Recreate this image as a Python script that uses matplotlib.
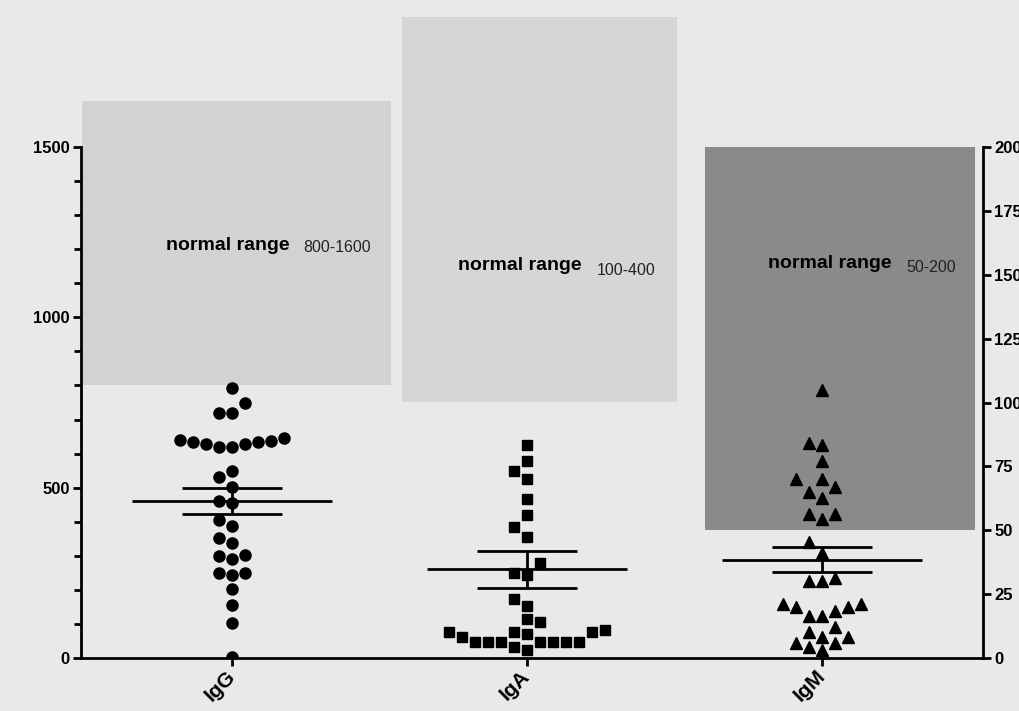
import numpy as np
import matplotlib.pyplot as plt
from matplotlib.patches import Rectangle

plt.rcParams['font.family'] = ['Liberation Sans', 'DejaVu Sans']

# data
groups = ['IgG', 'IgA', 'IgM']
igg = [794, 748, 718, 718, 647, 640, 637, 635, 635, 627, 627, 620, 620,
       549, 530, 501, 461, 454, 405, 387, 351, 337, 301, 299, 290,
       251, 251, 245, 202, 157, 102, 2]
iga = [625, 579, 550, 527, 467, 420, 384, 356, 280, 249, 244, 173, 153,
       114, 107, 82, 77, 75, 75, 70, 63, 48, 48, 48, 48, 48, 48, 48, 33, 25]
igm = [105, 84, 83.4, 77, 70, 70, 67, 65, 62.5, 56.4, 56.4, 54.3, 45.3, 41,
       31.2, 30.3, 30.3, 21, 21, 20, 20, 18.5, 16.4, 16.4, 12.3, 10.3,
       8.3, 8.3, 6, 6, 4.4, 3.1]
means = [461, 260, 38.4]
sems = [37.5, 54, 4.9]
ranges = ['800-1600', '100-400', '50-200']

BG = '#e9e9e9'
LW = 2.0


def swarm(ax, vals, x0, step_px=13, gap_px=13):
    # simple greedy beeswarm in pixel space, lowest values first
    vals = np.asarray(vals, dtype=float)
    ys = ax.transData.transform(np.column_stack([np.full(len(vals), x0), vals]))[:, 1]
    px_per_x = ax.transData.transform((1, 0))[0] - ax.transData.transform((0, 0))[0]
    cands = [0] + [s * k for k in range(1, 20) for s in (-1, 1)]
    placed = {}
    xs = np.zeros(len(vals))
    for i in np.argsort(ys, kind='stable'):
        for c in cands:
            if all(abs(ys[i] - yy) >= gap_px for yy in placed.get(c, [])):
                placed.setdefault(c, []).append(ys[i])
                xs[i] = x0 + c * step_px / px_per_x
                break
    return xs


fig = plt.figure(figsize=(10.2, 7.11), dpi=100, facecolor=BG)
ax = fig.add_axes([0.0794, 0.0745, 0.8843, 0.7187])
ax.set_facecolor('none')
ax.set_xlim(0.488, 3.546)
ax.set_ylim(0, 1500)
ax2 = ax.twinx()
ax2.set_ylim(0, 200)

# shaded "normal range" boxes (drawn by hand in the original, partly outside the axes)
ax.add_patch(Rectangle((0.492, 800), 1.047, 835, facecolor='#d2d2d2',
                       edgecolor='none', clip_on=False, zorder=0))
ax.add_patch(Rectangle((1.576, 751), 0.932, 1130, facecolor='#d6d6d6',
                       edgecolor='none', clip_on=False, zorder=0))
ax2.add_patch(Rectangle((2.603, 50), 0.916, 150, facecolor='#8a8a8a',
                        edgecolor='none', clip_on=False, zorder=0))

# points
x = np.arange(1, 4)
ax.plot(swarm(ax, igg, 1), igg, 'o', color='black', ms=8, zorder=3)
ax.plot(swarm(ax, iga, 2), iga, 's', color='black', ms=7, zorder=3)
ax2.plot(swarm(ax2, igm, 3), igm, '^', color='black', ms=8, zorder=3)

# mean +/- SEM
for i, (m, s) in enumerate(zip(means, sems)):
    a = ax2 if i == 2 else ax
    a.hlines(m, x[i] - 0.34, x[i] + 0.34, color='black', lw=LW, zorder=4)
    a.hlines([m - s, m + s], x[i] - 0.17, x[i] + 0.17, color='black', lw=LW, zorder=4)
    a.vlines(x[i], m - s, m + s, color='black', lw=LW, zorder=4)

# labels in boxes
ax.text(0.776, 1212, 'normal range', fontsize=14, fontweight='bold', va='center')
ax.text(1.241, 1206, ranges[0], fontsize=11.5, va='center', color='#222222')
ax.text(1.766, 1153, 'normal range', fontsize=14, fontweight='bold', va='center')
ax.text(2.237, 1139, ranges[1], fontsize=11.5, va='center', color='#222222')
ax2.text(2.817, 154.5, 'normal range', fontsize=14, fontweight='bold', va='center', zorder=5)
ax2.text(3.288, 152.7, ranges[2], fontsize=11.5, va='center', color='#222222', zorder=5)

# axes styling
ax.set_xticks(x)
ax.set_xticklabels(groups, rotation=45, ha='right', va='center',
                   rotation_mode='anchor', fontsize=15, fontweight='bold')
ax.set_yticks([0, 500, 1000, 1500])
ax.set_yticks(np.arange(100, 1500, 100), minor=True)
ax2.set_yticks(np.arange(0, 201, 25))
for a in (ax, ax2):
    a.spines['top'].set_visible(False)
    for sp in a.spines.values():
        sp.set_linewidth(LW)
    a.tick_params(width=LW, length=6, pad=2)
    a.tick_params(axis='y', labelsize=12)
    a.tick_params(which='minor', width=LW, length=5)
    for lab in a.get_yticklabels():
        lab.set_fontweight('bold')
ax.spines['right'].set_visible(False)
ax2.spines['left'].set_visible(False)
ax2.spines['bottom'].set_visible(False)
ax.tick_params(axis='x', pad=5)

fig.savefig('out.png', dpi=100, facecolor=BG)
